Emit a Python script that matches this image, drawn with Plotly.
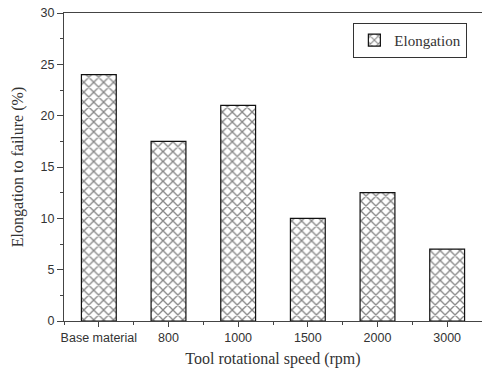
import plotly.graph_objects as go

categories = ["Base material", "800", "1000", "1500", "2000", "3000"]
elongation = [24, 17.5, 21, 10, 12.5, 7]
y_ticks = [0, 5, 10, 15, 20, 25, 30]

positions = list(range(len(categories)))

fig = go.Figure()
fig.add_trace(go.Bar(
    x=positions, y=elongation, name="Elongation", width=0.5,
    marker=dict(color="white", line=dict(color="#111", width=1.2),
                pattern=dict(shape="x", fgcolor="#111", bgcolor="white", size=7, solidity=0.35)),
    showlegend=True,
))

axis_col = "#444"
fig.update_layout(
    width=482, height=371,
    margin=dict(l=64, r=0, t=13, b=50),
    paper_bgcolor="white", plot_bgcolor="white",
    showlegend=True,
    legend=dict(x=0.965, y=0.968, xanchor="right", yanchor="top",
                bordercolor="#333", borderwidth=1, bgcolor="white",
                font=dict(family="Liberation Serif", size=15, color="#333"),
                tracegroupgap=0, itemwidth=30),
    xaxis=dict(
        range=[-0.5, 5.5], tickmode="array", tickvals=positions, ticktext=categories,
        showline=True, linecolor=axis_col, linewidth=1.3, mirror=True,
        ticks="outside", ticklen=5, tickcolor=axis_col, tickwidth=1,
        showgrid=False, zeroline=False,
        tickfont=dict(family="Liberation Sans", size=12.5, color="#333"),
        minor=dict(tick0=0.5, dtick=1, ticks="outside", ticklen=3, tickcolor=axis_col, showgrid=False),
        title=dict(text="Tool rotational speed (rpm)", standoff=8,
                   font=dict(family="Liberation Serif", size=16, color="#333")),
    ),
    yaxis=dict(
        range=[0, 30], tickmode="array", tickvals=y_ticks,
        showline=True, linecolor=axis_col, linewidth=1.3, mirror=False,
        ticks="outside", ticklen=6, tickcolor=axis_col, tickwidth=1,
        showgrid=False, zeroline=False,
        tickfont=dict(family="Liberation Sans", size=12.5, color="#333"),
        minor=dict(dtick=2.5, tick0=0, ticks="outside", ticklen=3, tickcolor=axis_col, showgrid=False),
        title=dict(text="Elongation to failure (%)", standoff=12,
                   font=dict(family="Liberation Serif", size=16, color="#333")),
    ),
)

fig.write_html("out.html")
